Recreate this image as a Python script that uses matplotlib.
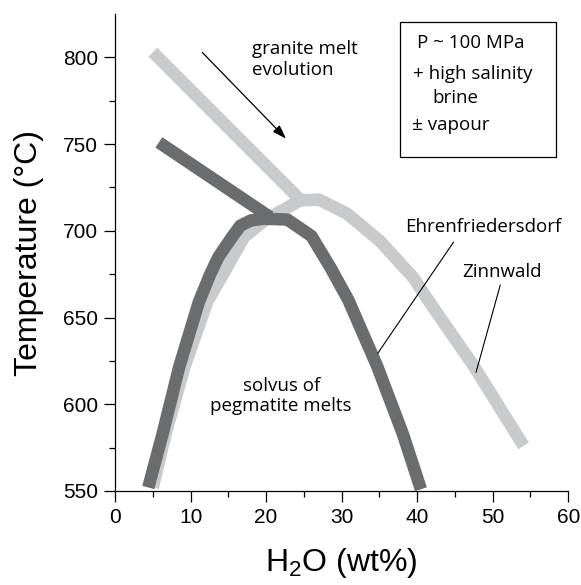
import matplotlib
matplotlib.use("Agg")
import matplotlib.pyplot as plt
from matplotlib.patches import Rectangle

# solvus curves, H2O wt% vs temperature (deg C)
ehren_x = [4.4, 6.3, 8.5, 11.1, 12.6, 13.7, 15.5, 16.6, 18.0, 19.6, 22.8, 24.5, 26.0, 28.5, 30.9, 34.7, 38.1, 40.5]
ehren_t = [552, 583, 621.6, 659, 675, 685, 696.5, 703, 706, 707, 706.5, 701.5, 697, 679, 660, 622, 583, 551]
zinn_x = [5.0, 6.7, 9.2, 12.2, 14.3, 17.1, 19.5, 21.4, 24.5, 27.0, 30.7, 35.1, 39.5, 41.3, 47.5, 54.1]
zinn_t = [552, 583, 621.6, 659, 675, 696.5, 705, 710, 717.5, 718, 710, 694, 673, 661, 622, 576]

# granite melt evolution paths toward the solvus
ehren_melt_x = [5.8, 20.5]
ehren_melt_t = [751, 708]
zinn_melt_x = [5.0, 24.5]
zinn_melt_t = [803, 718]

xticks = [0, 10, 20, 30, 40, 50, 60]
yticks = [550, 600, 650, 700, 750, 800]

dark = "#6b6c6e"
light = "#c9cacc"

plt.rcParams["font.family"] = ["Liberation Sans", "DejaVu Sans"]
plt.rcParams["mathtext.fontset"] = "custom"
plt.rcParams["mathtext.rm"] = "Liberation Sans"
plt.rcParams["mathtext.default"] = "regular"

fig = plt.figure(figsize=(5.81, 5.85), dpi=100)
ax = fig.add_axes([0.198, 0.1607, 0.780, 0.8153])

lw = 9
kw = dict(lw=lw, solid_capstyle="butt", solid_joinstyle="round", clip_on=False)
ax.plot(zinn_x, zinn_t, color=light, **kw)
ax.plot(zinn_melt_x, zinn_melt_t, color=light, **kw)
ax.plot(ehren_x, ehren_t, color=dark, **kw)
ax.plot(ehren_melt_x, ehren_melt_t, color=dark, **kw)

ax.set_xlim(0, 60)
ax.set_ylim(550, 825)
ax.set_xticks(xticks)
ax.set_yticks(yticks)
ax.set_xticks(range(5, 60, 10), minor=True)
ax.set_yticks(range(575, 825, 50), minor=True)
ax.tick_params(which="major", length=8, width=0.9, labelsize=15, direction="out", pad=4)
ax.tick_params(which="minor", length=4.5, width=0.9, direction="out")
for s in ["top", "right"]:
    ax.spines[s].set_visible(False)
for s in ["left", "bottom"]:
    ax.spines[s].set_linewidth(0.9)

ax.set_xlabel("H$_2$O (wt%)", fontsize=23, labelpad=14)
ax.set_ylabel("Temperature (°C)", fontsize=23, labelpad=14)

afont = ["Open Sans", "DejaVu Sans"]
fs = 13.5

ax.text(18.1, 799, "granite melt\nevolution", family=afont, fontsize=fs, ha="left", va="center", linespacing=1.2)
ax.annotate("", xy=(22.9, 752), xytext=(11.3, 804),
            arrowprops=dict(arrowstyle="-|>,head_length=0.6,head_width=0.2", color="black", lw=0.9, mutation_scale=14))

# conditions box
ax.add_patch(Rectangle((37.7, 742.4), 20.7, 77.8, fill=False, ec="black", lw=0.9, clip_on=False))
ax.text(40.0, 808.1, "P ~ 100 MPa", family=afont, fontsize=fs, va="center")
ax.text(39.4, 790.2, "+ high salinity", family=afont, fontsize=fs, va="center")
ax.text(42.0, 776.4, "brine", family=afont, fontsize=fs, va="center")
ax.text(39.3, 760.8, "± vapour", family=afont, fontsize=fs, va="center")

ax.text(38.4, 702.1, "Ehrenfriedersdorf", family=afont, fontsize=fs, va="center")
ax.plot([44.8, 34.8], [693.4, 629.5], color="black", lw=0.8)
ax.text(46.0, 676.2, "Zinnwald", family=afont, fontsize=fs, va="center")
ax.plot([51.0, 47.8], [668.7, 618.5], color="black", lw=0.8)

ax.text(22.0, 605, "solvus of\npegmatite melts", family=afont, fontsize=fs, ha="center", va="center", linespacing=1.15)

fig.savefig("out.png", dpi=100)
